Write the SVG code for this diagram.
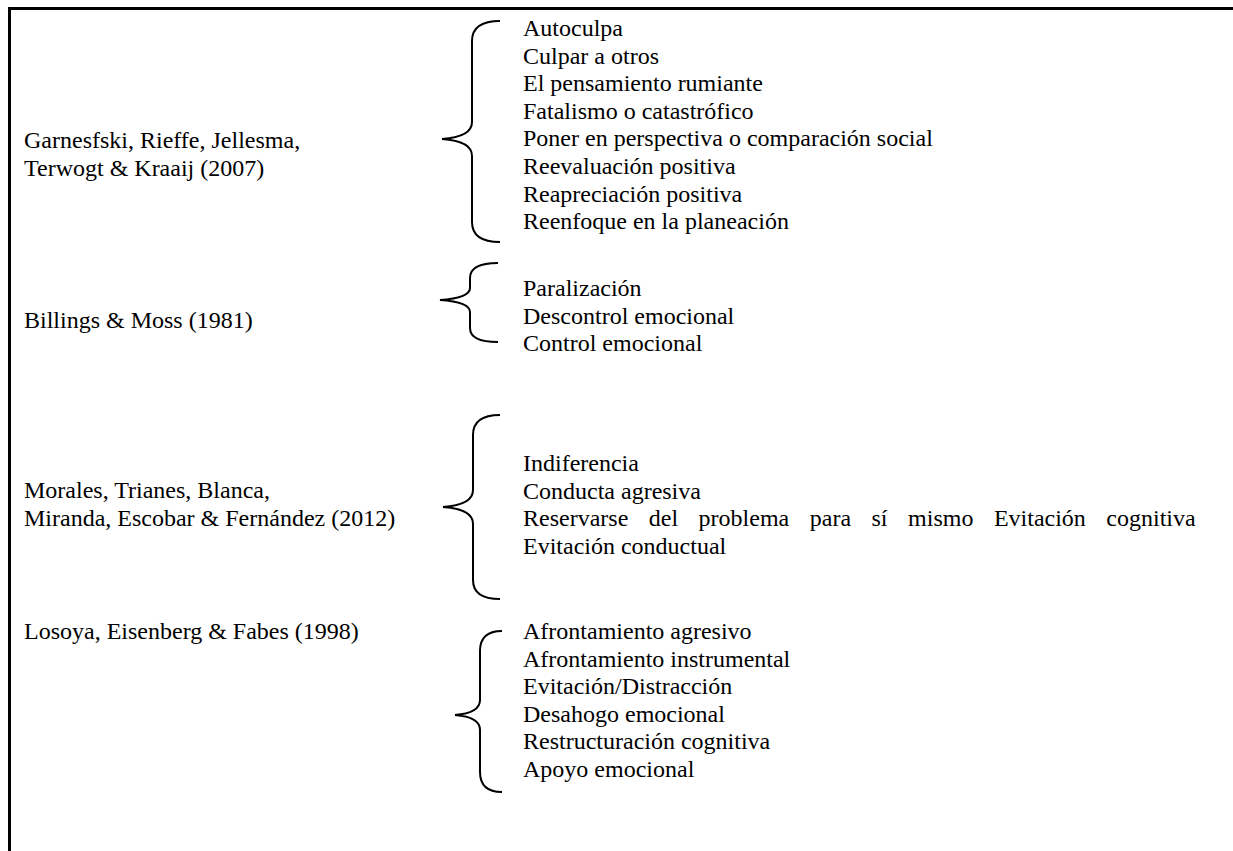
<svg xmlns="http://www.w3.org/2000/svg" width="1233" height="851" viewBox="0 0 1233 851">
<style>
text{font-family:'Liberation Serif','DejaVu Serif',serif;font-size:24px;fill:#000}
.brace{fill:none;stroke:#000;stroke-width:2}
.frame{fill:none;stroke:#000;stroke-width:3}
</style>
<rect width="1233" height="851" fill="#fff"/>
<g id="frame"><path class="frame" d="M9.5,851 V8.5 H1233"/></g>
<g id="g1">
<text x="24" y="148">Garnesfski, Rieffe, Jellesma,</text>
<text x="24" y="175.6">Terwogt &amp; Kraaij (2007)</text>
</g>
<g id="l1">
<text x="523" y="36">Autoculpa</text>
<text x="523" y="63.6">Culpar a otros</text>
<text x="523" y="91.2">El pensamiento rumiante</text>
<text x="523" y="118.8">Fatalismo o catastrófico</text>
<text x="523" y="146.4">Poner en perspectiva o comparación social</text>
<text x="523" y="174">Reevaluación positiva</text>
<text x="523" y="201.6">Reapreciación positiva</text>
<text x="523" y="229.2">Reenfoque en la planeación</text>
</g>
<g id="g2"><text x="24" y="328">Billings &amp; Moss (1981)</text></g>
<g id="l2">
<text x="523" y="296">Paralización</text>
<text x="523" y="323.6">Descontrol emocional</text>
<text x="523" y="351.2">Control emocional</text>
</g>
<g id="g3">
<text x="24" y="498">Morales, Trianes, Blanca,</text>
<text x="24" y="525.6">Miranda, Escobar &amp; Fernández (2012)</text>
</g>
<g id="l3">
<text x="523" y="471">Indiferencia</text>
<text x="523" y="498.6">Conducta agresiva</text>
<text x="523" y="526.2" word-spacing="14.5">Reservarse del problema para sí mismo Evitación cognitiva</text>
<text x="523" y="553.8">Evitación conductual</text>
</g>
<g id="g4"><text x="24" y="639">Losoya, Eisenberg &amp; Fabes (1998)</text></g>
<g id="l4">
<text x="523" y="639">Afrontamiento agresivo</text>
<text x="523" y="666.6">Afrontamiento instrumental</text>
<text x="523" y="694.2">Evitación/Distracción</text>
<text x="523" y="721.8">Desahogo emocional</text>
<text x="523" y="749.4">Restructuración cognitiva</text>
<text x="523" y="777">Apoyo emocional</text>
</g>
<g id="connectors">
<path class="brace" d="M500,21 Q472,21 472,41 V122 Q472,137 442,139 Q472,141 472,156 V222 Q472,242 500,242"/>
<path class="brace" d="M498,263 Q470,263 470,278 V288 Q470,298 440,300 Q470,302 470,312 V328 Q470,342 498,342"/>
<path class="brace" d="M500,415 Q473,415 473,435 V490 Q473,505 443,507 Q473,509 473,524 V580 Q473,599 500,599"/>
<path class="brace" d="M502,631 Q480,631 480,651 V700 Q480,713 455,715 Q480,717 480,730 V772 Q480,792 502,792"/>
</g>
</svg>
